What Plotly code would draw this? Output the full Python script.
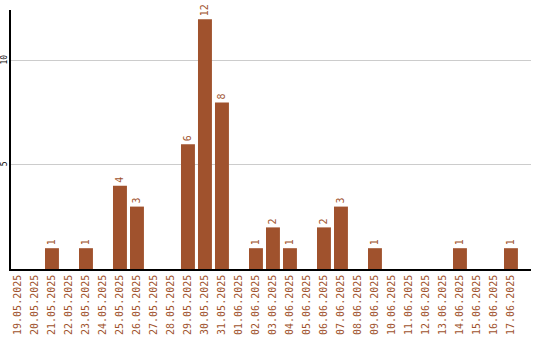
import plotly.graph_objects as go

dates = ["19.05.2025","20.05.2025","21.05.2025","22.05.2025","23.05.2025","24.05.2025",
         "25.05.2025","26.05.2025","27.05.2025","28.05.2025","29.05.2025","30.05.2025",
         "31.05.2025","01.06.2025","02.06.2025","03.06.2025","04.06.2025","05.06.2025",
         "06.06.2025","07.06.2025","08.06.2025","09.06.2025","10.06.2025","11.06.2025",
         "12.06.2025","13.06.2025","14.06.2025","15.06.2025","16.06.2025","17.06.2025"]
counts = [0,0,1,0,1,0,4,3,0,0,6,12,8,0,1,2,1,0,2,3,0,1,0,0,0,0,1,0,0,1]
labels = [str(v) if v > 0 else "" for v in counts]
y_ticks = [5, 10]

color = "#A0522D"
fig = go.Figure(go.Bar(
    x=dates, y=counts, marker_color=color, marker_line_width=0,
    text=labels, textposition="outside", textangle=-90,
    textfont=dict(family="DejaVu Sans Mono", size=10, color=color),
    cliponaxis=False,
))
fig.update_layout(
    width=540, height=340,
    margin=dict(l=11, r=9, t=10, b=71),
    plot_bgcolor="white", paper_bgcolor="white",
    bargap=0.18, showlegend=False,
    xaxis=dict(type="category", range=[-0.41, 30.18], tickangle=-90,
               tickfont=dict(family="DejaVu Sans Mono", size=10, color=color),
               showline=True, linecolor="black", linewidth=1.5, ticks="",
               showgrid=False, automargin=False),
    yaxis=dict(range=[0, 12.45], tickvals=y_ticks, tickangle=-90,
               tickfont=dict(family="DejaVu Sans Mono", size=8, color="black"),
               ticklabelstandoff=-1,
               showline=True, linecolor="black", linewidth=1.5, ticks="",
               showgrid=True, gridcolor="#cccccc", gridwidth=1,
               zeroline=False, automargin=False),
)
fig.write_html("out.html")
